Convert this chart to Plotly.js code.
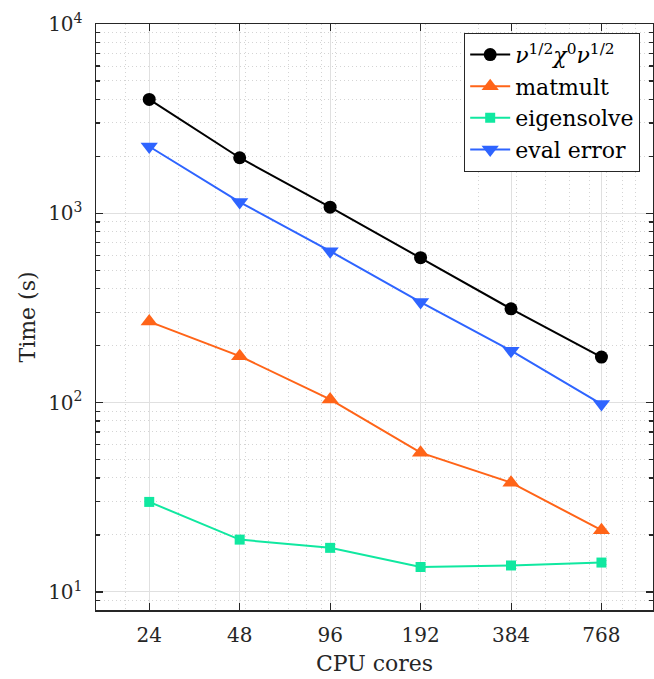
<!DOCTYPE html>
<html>
<head>
<meta charset="utf-8">
<script src="https://cdn.plot.ly/plotly-3.0.1.min.js"></script>
<style>html,body{margin:0;padding:0;background:#fff;}#chart{width:654px;height:679px;}</style>
</head>
<body>
<div id="chart"></div>
<script>
const cores = [24, 48, 96, 192, 384, 768];
const xTickText = ["24", "48", "96", "192", "384", "768"];
const totalTime = [3995, 1966, 1078, 583, 313, 174];
const matmultTime = [268, 176, 104, 54.4, 37.8, 21.2];
const eigensolveTime = [29.9, 18.9, 17.1, 13.55, 13.8, 14.3];
const evalErrorTime = [2254, 1146, 631, 340, 188, 98.3];
const seriesNames = ["<i>ν</i><sup>1/2</sup><i>χ</i><sup>0</sup><i>ν</i><sup>1/2</sup>", "matmult", "eigensolve", "eval error"];
const yTickVals = [10, 100, 1000, 10000];
const yTickText = ["10<sup>1</sup>", "10<sup>2</sup>", "10<sup>3</sup>", "10<sup>4</sup>"];
const xMinorVals = [20, 30, 40, 50, 60, 70, 80, 90, 100, 200, 300, 400, 500, 600, 700, 800, 900, 1000];
const yMinorVals = [8, 9, 20, 30, 40, 50, 60, 70, 80, 90, 200, 300, 400, 500, 600, 700, 800, 900, 2000, 3000, 4000, 5000, 6000, 7000, 8000, 9000];

const font = "DejaVu Serif";

const traces = [
  {x: cores, y: totalTime, name: seriesNames[0], mode: "lines+markers",
   line: {color: "#000000", width: 2}, marker: {symbol: "circle", size: 13, color: "#000000"}},
  {x: cores, y: matmultTime, name: seriesNames[1], mode: "lines+markers",
   line: {color: "#ff6418", width: 2}, marker: {symbol: "triangle-up", size: 15, color: "#ff6418"}},
  {x: cores, y: eigensolveTime, name: seriesNames[2], mode: "lines+markers",
   line: {color: "#10e8a0", width: 2}, marker: {symbol: "square", size: 10, color: "#10e8a0"}},
  {x: cores, y: evalErrorTime, name: seriesNames[3], mode: "lines+markers",
   line: {color: "#2e64ff", width: 2}, marker: {symbol: "triangle-down", size: 15, color: "#2e64ff"}}
];

const layout = {
  width: 654, height: 679,
  margin: {l: 96, r: 1, t: 24, b: 69},
  paper_bgcolor: "#ffffff", plot_bgcolor: "#ffffff",
  font: {family: font, size: 20, color: "#262626"},
  showlegend: true,
  xaxis: {
    type: "log",
    range: [Math.log10(15.96), Math.log10(1140)],
    tickmode: "array", tickvals: cores, ticktext: xTickText,
    ticks: "inside", ticklen: 7, tickwidth: 1, tickcolor: "#262626",
    showline: true, linecolor: "#262626", linewidth: 1.5, mirror: "ticks",
    showgrid: true, gridcolor: "#e0e0e0", gridwidth: 1,
    minor: {tickmode: "array", tickvals: xMinorVals, showgrid: true, gridcolor: "#d4d4d4", griddash: "1px,3px", gridwidth: 1, ticks: ""},
    zeroline: false,
    tickfont: {family: font, size: 20, color: "#262626"},
    ticklabelstandoff: 6,
    title: {text: "CPU cores", font: {family: font, size: 22, color: "#262626"}, standoff: 10}
  },
  yaxis: {
    type: "log",
    range: [Math.log10(8.03), 4],
    tickmode: "array", tickvals: yTickVals, ticktext: yTickText,
    ticks: "inside", ticklen: 7, tickwidth: 1.5, tickcolor: "#262626",
    showline: true, linecolor: "#262626", linewidth: 1.5, mirror: "ticks",
    showgrid: true, gridcolor: "#e0e0e0", gridwidth: 1,
    minor: {tickmode: "array", tickvals: yMinorVals, showgrid: true, gridcolor: "#d4d4d4", griddash: "1px,3px", gridwidth: 1, ticks: "inside", ticklen: 4, tickcolor: "#262626"},
    zeroline: false,
    tickfont: {family: font, size: 20, color: "#262626"},
    ticklabelstandoff: 8,
    title: {text: "Time (s)", font: {family: font, size: 22, color: "#262626"}, standoff: 6}
  },
  legend: {
    x: 0.977, y: 0.985, xanchor: "right", yanchor: "top",
    bgcolor: "#ffffff", bordercolor: "#262626", borderwidth: 1,
    font: {family: font, size: 22, color: "#000000"},
    itemwidth: 40
  }
};

Plotly.newPlot("chart", traces, layout, {displayModeBar: false, staticPlot: true});
</script>
</body>
</html>
